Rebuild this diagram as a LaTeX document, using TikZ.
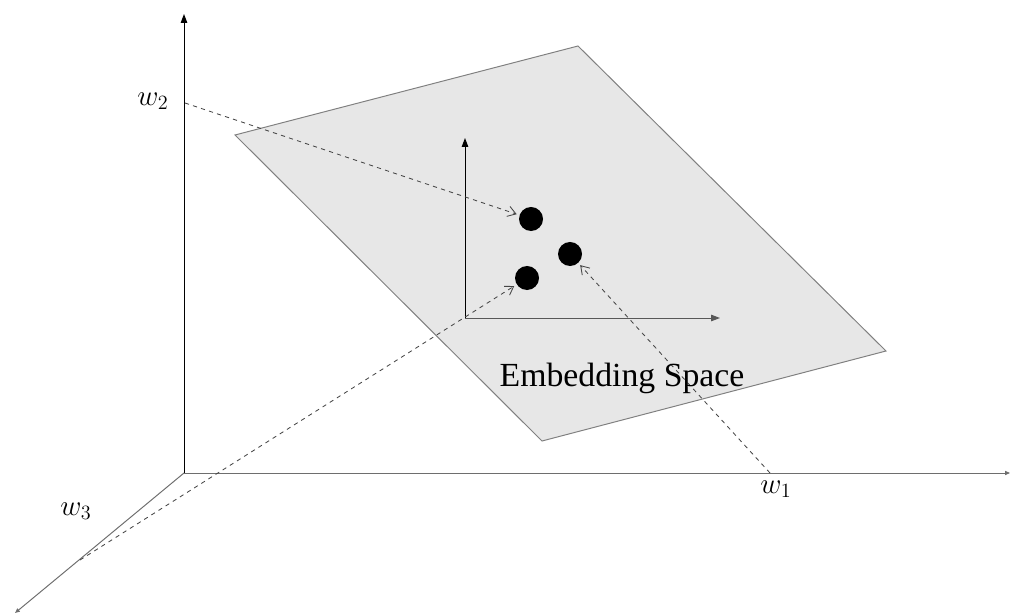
\documentclass[tikz,border=0pt]{standalone}
\usepackage{fontspec}
\usepackage{amsmath}
\setmainfont{Liberation Serif}
\usetikzlibrary{arrows.meta}
\definecolor{planegray}{RGB}{231,231,231}
\definecolor{edgegray}{RGB}{128,128,128}
\definecolor{axisgray}{RGB}{110,110,110}
\definecolor{projgray}{RGB}{70,70,70}

\tikzset{
  axis/.style={line width=0.7pt,-{Triangle[length=2.2mm,width=1.6mm]}},
  proj/.style={dashed,projgray,line width=0.6pt,-{Straight Barb[length=2mm,width=2.6mm]},shorten >=2pt},
  point/.style={circle,fill=black,minimum size=0.6cm,inner sep=0pt},
  lbl/.style={font=\fontsize{24}{28}\selectfont},
  wlbl/.style={font=\fontsize{21}{25}\selectfont}
}

\begin{document}
\begin{tikzpicture}[x=0.025cm,y=-0.025cm]
  \useasboundingbox (0,0) rectangle (1012,616);
  % embedding plane
  \filldraw[fill=planegray,draw=edgegray,line width=0.7pt] (235,135)--(578,46)--(886,351)--(542,441)--cycle;
  % outer axes
  \coordinate (O) at (184,473);
  \coordinate (w2end) at (184,14);
  \coordinate (w1end) at (1010,473);
  \coordinate (w3end) at (15,613);
  \draw[axis,black] (O) -- (w2end);
  \draw[axis,axisgray,-{Triangle[length=1.2mm,width=1mm]}] (O) -- (w1end);
  \draw[axis,axisgray,-{Triangle[length=1.2mm,width=1mm]}] (O) -- (w3end);
  % inner axes
  \coordinate (o) at (465,318);
  \draw[axis,black] (o) -- (465,138);
  \draw[axis,axisgray!80!black] (o) -- (720,318);
  % points
  \node[point] (d1) at (531,219) {};
  \node[point] (d2) at (570,254) {};
  \node[point] (d3) at (527,278) {};
  % projections
  \coordinate (p2) at (185,103);
  \coordinate (p3) at (80,560);
  \coordinate (p1) at (770,473);
  \draw[proj] (p2) -- (d1);
  \draw[proj] (p3) -- (d3);
  \draw[proj] (p1) -- (d2);
  % labels
  \node[wlbl] (l2) at (153,101) {$w_2$};
  \node[wlbl] (l3) at (76,511) {$w_3$};
  \node[wlbl] (l1) at (776,489) {$w_1$};
  \node[lbl] (emb) at (622,378) {Embedding Space};
\end{tikzpicture}
\end{document}
